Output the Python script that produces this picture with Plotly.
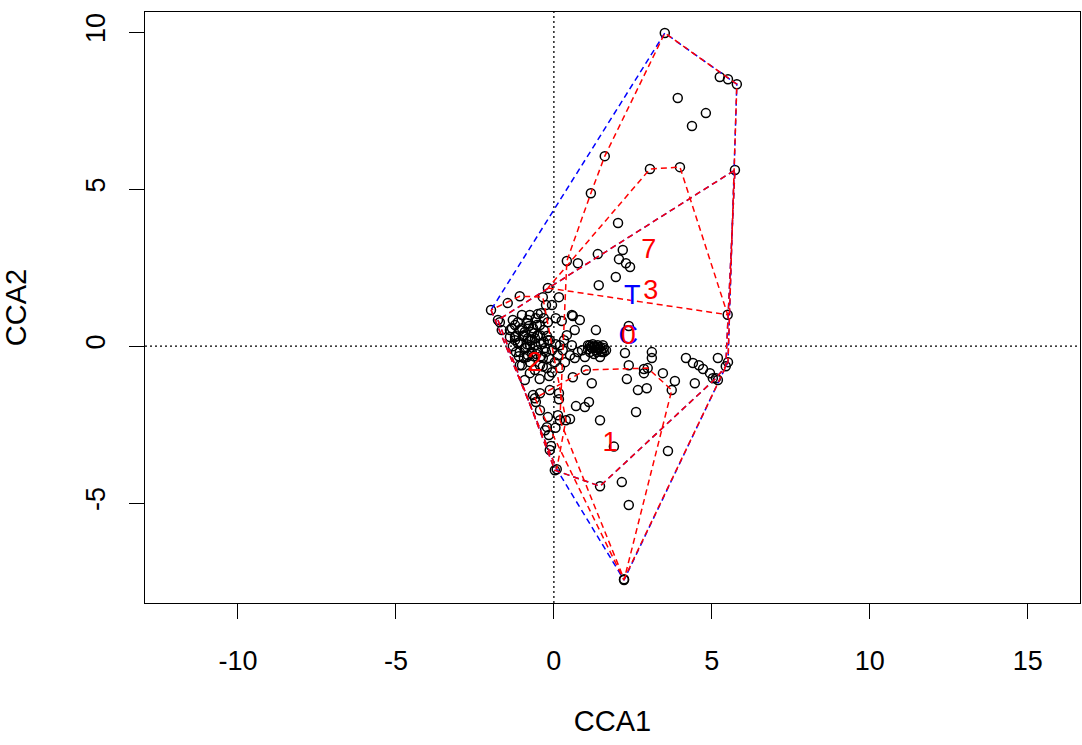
import plotly.graph_objects as go

# ---- site scores (CCA1, CCA2), grouped by sampling day ----
day0_x = [5.73, 5.44, 5.13, 1.46, 0.03, -1.77,
          5.19, 4.94, 4.72, 4.46, 3.83, 2.94, 2.66, 2.85, 2.85, 2.31, 2.37, 2.25,
          1.27, 1.20, 1.33, 1.46, 1.52, 1.39, 1.58, 1.14,
          1.33, 0.60, 0.25, 0.16, -0.06, -0.25, -0.41, 0.41, 0.57,
          -0.51, -0.85, -0.54, -1.14, -0.70, -0.35, 0.03, 0.35, 0.66, 0.98, 1.08, 1.46,
          -0.60, -0.06, 0.60, -0.76, -0.44, -0.13, 0.19, -0.28, -0.92, -0.60, -0.82, -1.08, -1.23,
          0.16, 0.16, -0.13, 0.13, 0.51, -0.19, -0.22, -0.16, -0.09, 1.20, -0.44, -0.57, -0.76, -1.01,
          -1.39, -1.20, -1.01, -0.82, -0.66, -0.51, -0.32, -0.19, 0.06, -1.08, -0.89, -0.70, -0.51,
          -0.32, -0.06, 0.13, 0.28, 0.51, 0.76, 0.89, -0.95, -0.76, -0.44, -0.22, 0.19, -1.20, -0.63, -0.82,
          1.23, 1.36, 1.55, 1.65, 1.08, 1.42, 1.27,
          -1.33, -1.14, -0.98, -0.79, -0.60, -0.41, -0.22, -1.30, -1.11, -0.85, -0.63, -0.41, -0.16,
          -0.57, -0.32, -0.76, -0.92, -0.25, 0.06, 0.32, 0.57, -1.23,
          1.17, 1.30, 1.49, 1.39, 1.58, 1.14]
day0_y = [5.61, -0.64, -1.02, -4.46, -3.95, 0.83,
          -0.38, -0.86, -0.73, -1.18, -1.11, -1.34, -1.40, -0.73, -0.86, -1.05, -0.61, -0.22,
          -0.03, -0.06, -0.13, -0.03, -0.19, 0.03, -0.06, -0.19,
          0.51, 0.96, 0.80, 1.56, 1.31, 1.31, 1.05, 0.35, 0.99,
          1.02, 0.73, 0.67, 0.10, -0.19, -0.38, -0.51, -0.51, -0.38, -0.35, 0.03, -0.35,
          -0.76, -0.83, -0.99, 0.19, 0.35, 0.19, 0.03, -0.06, 0.45, 0.03, -0.29, 0.51, 0.67,
          -1.50, -1.69, -1.40, -2.20, -2.32, -2.26, -2.58, -2.83, -3.18, -1.18, -1.50, -1.78, -0.86, -0.61,
          0.51, 0.32, 0.57, 0.83, 0.57, 0.35, 0.51, 0.76, 0.89, 0.13, -0.06, 0.19, -0.13,
          0.13, -0.13, -0.29, -0.13, -0.29, -0.19, -0.13, -0.38, -0.51, -0.61, -0.70, -0.70, -0.19, 0.41, 0.25,
          0.06, -0.19, 0.03, -0.13, -0.10, -0.10, -0.25,
          0.57, 0.76, 0.32, 0.64, 0.25, 0.06, 0.32, 0.00, -0.32, 0.06, -0.32, -0.32, -0.38,
          0.89, 0.89, 0.99, -0.06, -0.19, 0.06, 0.19, 0.03, 0.29,
          -0.03, 0.00, -0.16, -0.03, -0.19, 0.03]

day1_x = [2.22, 3.73, 2.97, 1.01, -0.60, 2.15, 2.37, 1.11, 0.98, 0.70, 1.46, 2.60, 1.90]
day1_y = [-7.45, -1.40, -0.70, -0.76, -1.66, -4.33, -5.06, -1.78, -1.94, -1.91, -2.36, -2.10, -3.20]

day2_x = [-1.99, -1.08, -0.35, 0.38, 0.09,
          -1.46, -1.71, -1.65, -1.39, -1.30, -1.01, -1.23, -1.08, -1.08, -0.92, -0.66, -0.44,
          -0.28, -0.13, -0.76, -0.44, -0.19, -0.95, -0.70, -0.55, -0.35, -0.85, -0.45, -0.15, 0.05]
day2_y = [1.15, 1.59, 1.56, -2.36, -3.92,
          1.37, 0.76, 0.51, 0.29, 0.83, 0.99, 0.19, -0.19, -0.61, -1.08, -1.56, -2.04,
          -2.68, -3.31, 0.03, 0.67, 0.19, 0.35, 0.45, -0.25, -0.65, -0.35, -1.05, -0.95, -2.60]

day3_x = [3.51, 5.79, 5.51, 2.22, 0.19, 0.41, 1.17, 1.61, 0.66,
          5.25, 5.51, 3.92, 4.37, 4.81, 2.37, 3.10, 3.10, 3.45, 4.18, 4.40, 4.59, 3.61, 5.03, 5.19, 0.82]
day3_y = [9.97, 8.34, -0.51, -7.42, -2.36, 2.71, 4.87, 6.05, 0.51,
          8.57, 8.50, 7.90, 7.01, 7.42, 0.64, -0.19, -0.38, -0.86, -0.38, -0.54, -0.61, -3.34, -1.02, -1.08, 0.83]

day7_x = [3.04, 3.99, 5.50, -0.19, 2.18, 2.06, 2.28, 2.41, 2.03, 1.42, 1.96, 0.76, 1.39]
day7_y = [5.64, 5.70, 1.00, 1.85, 3.06, 2.77, 2.64, 2.52, 3.92, 1.94, 2.20, 2.64, 2.93]

day_names = ["0", "1", "2", "3", "7"]
treat_names = ["C", "T"]
treat_days = {"C": ["0"], "T": ["1", "2", "3", "7"]}

x_ticks = [-10, -5, 0, 5, 10, 15]
x_tick_text = ["-10", "-5", "0", "5", "10", "15"]
y_ticks = [-5, 0, 5, 10]
y_tick_text = ["-5", "0", "5", "10"]

days = {"0": (day0_x, day0_y), "1": (day1_x, day1_y), "2": (day2_x, day2_y),
        "3": (day3_x, day3_y), "7": (day7_x, day7_y)}


def hull(px, py):
    pts = sorted(set(zip(px, py)))
    if len(pts) < 3:
        return pts

    def cross(o, a, b):
        return (a[0] - o[0]) * (b[1] - o[1]) - (a[1] - o[1]) * (b[0] - o[0])
    lower, upper = [], []
    for p in pts:
        while len(lower) >= 2 and cross(lower[-2], lower[-1], p) <= 0:
            lower.pop()
        lower.append(p)
    for p in reversed(pts):
        while len(upper) >= 2 and cross(upper[-2], upper[-1], p) <= 0:
            upper.pop()
        upper.append(p)
    return lower[:-1] + upper[:-1]


def centroid(poly):
    a = cx = cy = 0.0
    n = len(poly)
    for i in range(n):
        x0, y0 = poly[i]
        x1, y1 = poly[(i + 1) % n]
        c = x0 * y1 - x1 * y0
        a += c
        cx += (x0 + x1) * c
        cy += (y0 + y1) * c
    a *= 0.5
    return cx / (6 * a), cy / (6 * a)


FONT = "Liberation Sans, Arial, sans-serif"
fig = go.Figure()

all_x, all_y = [], []
for d in day_names:
    all_x += days[d][0]
    all_y += days[d][1]
fig.add_trace(go.Scatter(x=all_x, y=all_y, mode="markers",
                         marker=dict(symbol="circle-open", size=9, color="black",
                                     line=dict(width=1.5, color="black")),
                         showlegend=False, hoverinfo="skip"))

dash = "6px,4px"
labels = []
for t in treat_names:
    tx, ty = [], []
    for d in treat_days[t]:
        tx += days[d][0]
        ty += days[d][1]
    h = hull(tx, ty)
    hx = [p[0] for p in h] + [h[0][0]]
    hy = [p[1] for p in h] + [h[0][1]]
    fig.add_trace(go.Scatter(x=hx, y=hy, mode="lines",
                             line=dict(color="#0000FF", width=1.5, dash=dash),
                             showlegend=False, hoverinfo="skip"))
    labels.append((t, centroid(h), "#0000FF"))

for d in day_names:
    h = hull(*days[d])
    hx = [p[0] for p in h] + [h[0][0]]
    hy = [p[1] for p in h] + [h[0][1]]
    fig.add_trace(go.Scatter(x=hx, y=hy, mode="lines",
                             line=dict(color="#FF0000", width=1.5, dash=dash),
                             showlegend=False, hoverinfo="skip"))
    labels.append((d, centroid(h), "#FF0000"))

for txt, (cx, cy), col in labels:
    fig.add_trace(go.Scatter(x=[cx], y=[cy], mode="text", text=[txt],
                             textfont=dict(family=FONT, size=27, color=col),
                             showlegend=False, hoverinfo="skip"))

dot = dict(color="black", width=1.3, dash="2px,3px")
fig.add_shape(type="line", xref="x", yref="paper", x0=0, x1=0, y0=0, y1=1, line=dot, layer="below")
fig.add_shape(type="line", xref="paper", yref="y", x0=0, x1=1, y0=0, y1=0, line=dot, layer="below")

axis_common = dict(showgrid=False, zeroline=False, showline=True, linecolor="black",
                   linewidth=1.2, mirror=True, ticks="outside", ticklen=15,
                   tickwidth=1.2, tickcolor="black", automargin=False,
                   tickfont=dict(family=FONT, size=27, color="black"))

fig.update_layout(
    width=1082, height=745,
    margin=dict(l=145, r=2, t=12, b=142),
    paper_bgcolor="white", plot_bgcolor="white",
    xaxis=dict(range=[-12.94, 16.65], tickvals=x_ticks, ticktext=x_tick_text,
               ticklabelstandoff=18,
               title=dict(text="CCA1", standoff=36,
                          font=dict(family=FONT, size=29, color="black")),
               **axis_common),
    yaxis=dict(range=[-8.18, 10.64], tickvals=y_ticks, ticktext=y_tick_text,
               tickangle=-90, ticklabelstandoff=13,
               title=dict(text="CCA2", standoff=48,
                          font=dict(family=FONT, size=29, color="black")),
               **axis_common),
)

fig.write_html("out.html", config={"displayModeBar": False},
               post_script="document.body.style.margin='0px';document.body.style.overflow='hidden';")
